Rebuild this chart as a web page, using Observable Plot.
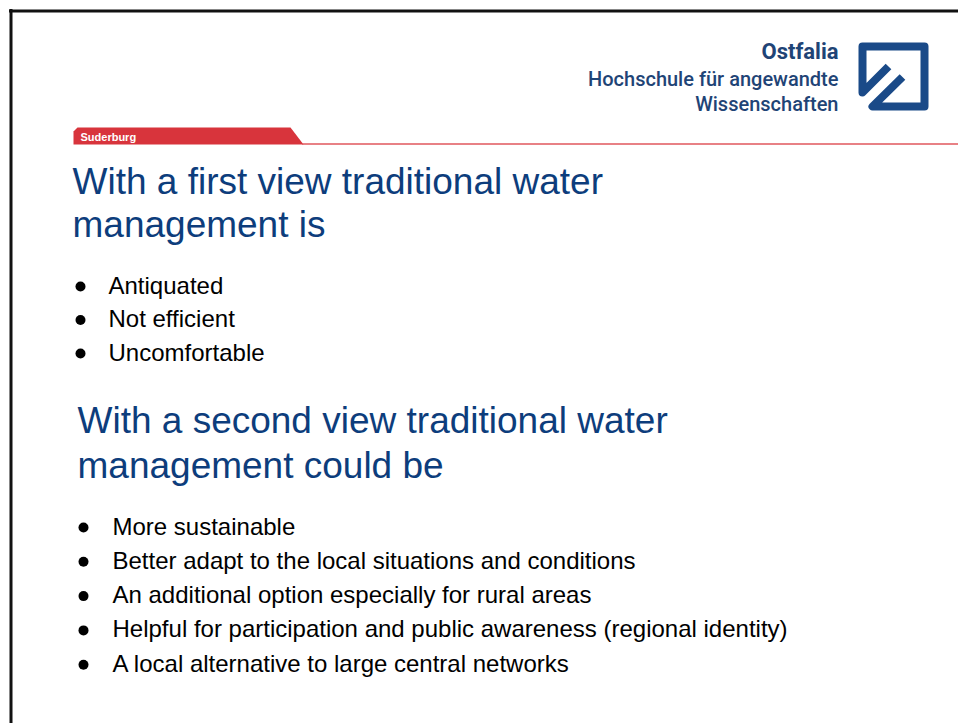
<!DOCTYPE html>
<html><head><meta charset="utf-8">
<script src="https://cdn.jsdelivr.net/npm/d3@7"></script>
<script src="https://cdn.jsdelivr.net/npm/@observablehq/plot@0.6"></script>
<style>html,body{margin:0;padding:0;background:#fff;} svg{display:block}</style>
</head><body><div id="chart"></div>
<script>
// ---- content ----
const campus = ["Suderburg"];
const logoName = ["Ostfalia"];
const logoSub = ["Hochschule für angewandte", "Wissenschaften"];
const title1 = ["With a first view traditional water", "management is"];
const bullets1 = ["Antiquated", "Not efficient", "Uncomfortable"];
const title2 = ["With a second view traditional water", "management could be"];
const bullets2 = [
  "More sustainable",
  "Better adapt to the local situations and conditions",
  "An additional option especially for rural areas",
  "Helpful for participation and public awareness (regional identity)",
  "A local alternative to large central networks"
];

// ---- layout ----
const W = 958, H = 723;
const BLUE = "#0d3d7c", LOGO = "#1a4a88", LOGOTXT = "#1f4476", RED = "#d8343c";
const FONT = "Liberation Sans, Arial, Helvetica, sans-serif";
const rows = (arr, x, y0, dy) => arr.map((t, i) => ({t, x, y: y0 + i * dy}));

const t1 = rows(title1, 72, 193, 43);
const b1 = rows(bullets1, 108, 293, 33.5);
const t2 = rows(title2, 77, 432, 45);
const b2 = rows(bullets2, 112, 534, 34.3);
const lName = rows(logoName, 838, 58, 0);
const lSub = rows(logoSub, 838, 85, 25);

const banner = [[73,144],[73,131],[77,127],[290,127],[303,144],[73,144]];
const logoOuter = [[902,76.5],[872,106],[924,106],[924,46],[862,46],[862,92],[888,66]];

const px = d => d[0], py = d => d[1];

const chart = Plot.plot({
  width: W, height: H, margin: 0,
  x: {domain: [0, W], range: [0, W], axis: null},
  y: {domain: [0, H], range: [0, H], axis: null},
  style: {background: "#fff", overflow: "visible"},
  marks: [
    // slide frame
    Plot.ruleX([10.5], {y1: 9, y2: H, stroke: "#111", strokeWidth: 3}),
    Plot.ruleY([10.5], {x1: 9, x2: W, stroke: "#111", strokeWidth: 3}),
    // red campus banner + thin line
    Plot.line(banner, {x: px, y: py, fill: RED, stroke: "none"}),
    Plot.ruleY([143.5], {x1: 302, x2: W, stroke: "#e0575d", strokeWidth: 1.3}),
    Plot.text(campus, {x: 80, y: 140, text: d => d, fill: "#fff", fontSize: 11, fontWeight: "bold",
      fontFamily: FONT, textAnchor: "start", lineAnchor: "bottom"}),
    // logo
    Plot.line(logoOuter, {x: px, y: py, stroke: LOGO, strokeWidth: 8, strokeLinejoin: "round", strokeLinecap: "butt"}),
    Plot.text(lName, {x: "x", y: "y", text: "t", fill: LOGOTXT, fontSize: 22, fontWeight: "bold",
      fontFamily: "Roboto, sans-serif", textAnchor: "end", lineAnchor: "bottom"}),
    Plot.text(lSub, {x: "x", y: "y", text: "t", fill: LOGOTXT, fontSize: 20, fontWeight: 500,
      fontFamily: "Roboto, sans-serif", textAnchor: "end", lineAnchor: "bottom"}),
    // titles
    Plot.text(t1.concat(t2), {x: "x", y: "y", text: "t", fill: BLUE, fontSize: 37, fontFamily: FONT,
      textAnchor: "start", lineAnchor: "bottom"}),
    // bullets
    Plot.dot(b1, {x: 80, y: d => d.y - 7, r: 5, fill: "#000", stroke: "none"}),
    Plot.dot(b2, {x: 83, y: d => d.y - 7, r: 5, fill: "#000", stroke: "none"}),
    Plot.text(b1.concat(b2), {x: "x", y: "y", text: "t", fill: "#000", fontSize: 24, fontFamily: FONT,
      textAnchor: "start", lineAnchor: "bottom"})
  ]
});
document.getElementById("chart").appendChild(chart);
</script>
</body></html>
